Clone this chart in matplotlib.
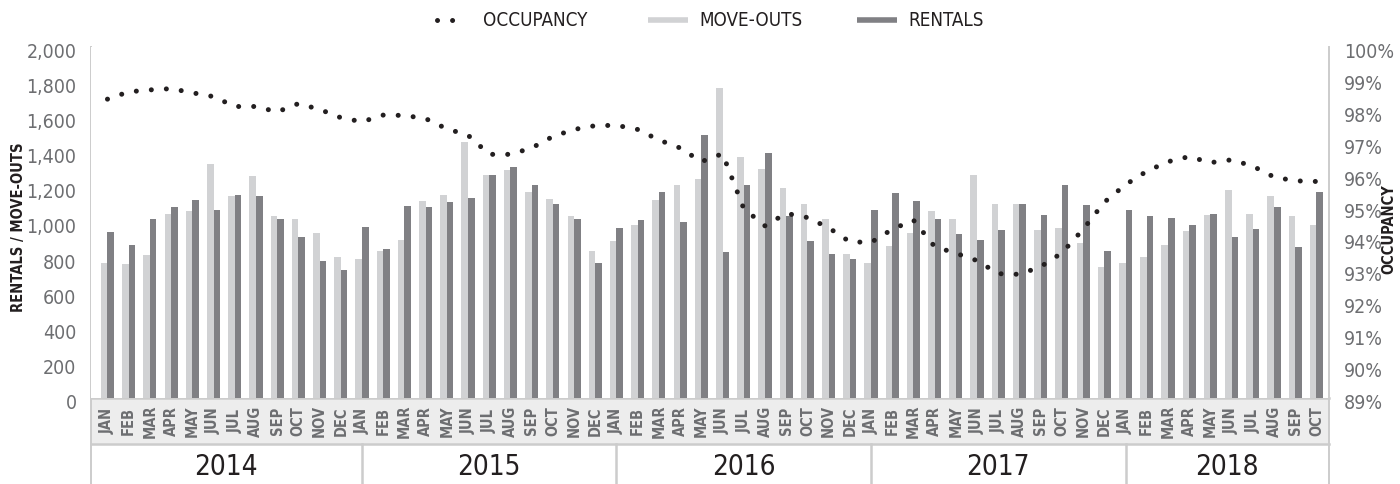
import matplotlib
matplotlib.use("Agg")
import matplotlib.pyplot as plt
from matplotlib.lines import Line2D
from matplotlib.patches import Rectangle
from matplotlib.transforms import blended_transform_factory, ScaledTranslation
from matplotlib.ticker import FuncFormatter
import numpy as np

# ---------------- data ----------------
years = [2014, 2015, 2016, 2017, 2018]
months_per_year = [12, 12, 12, 12, 10]
month_names = ["JAN", "FEB", "MAR", "APR", "MAY", "JUN",
               "JUL", "AUG", "SEP", "OCT", "NOV", "DEC"]

move_outs = [
    766, 761, 812, 1046, 1063, 1331, 1148, 1262, 1034, 1017, 937, 801,      # 2014
    789, 835, 898, 1120, 1154, 1456, 1268, 1297, 1171, 1131, 1034, 835,     # 2015
    892, 983, 1126, 1211, 1245, 1764, 1371, 1302, 1194, 1103, 1017, 818,    # 2016
    767, 863, 937, 1063, 1017, 1268, 1103, 1103, 955, 966, 881, 744,        # 2017
    767, 801, 869, 949, 1040, 1183, 1046, 1148, 1034, 983,                  # 2018
]
rentals = [
    943, 869, 1017, 1086, 1126, 1069, 1154, 1148, 1017, 915, 778, 727,      # 2014
    972, 846, 1091, 1086, 1114, 1137, 1268, 1314, 1211, 1103, 1017, 767,    # 2015
    966, 1012, 1171, 1000, 1496, 829, 1211, 1393, 1034, 892, 818, 789,      # 2016
    1069, 1166, 1120, 1017, 932, 898, 955, 1103, 1040, 1211, 1097, 835,     # 2017
    1069, 1034, 1023, 983, 1046, 915, 960, 1086, 858, 1171,                 # 2018
]
occupancy = [
    98.35, 98.58, 98.64, 98.68, 98.55, 98.43, 98.12, 98.12, 97.95, 98.21, 98.03, 97.77,  # 2014
    97.64, 97.85, 97.84, 97.74, 97.42, 97.22, 96.62, 96.62, 96.82, 97.18, 97.40, 97.52,  # 2015
    97.53, 97.40, 97.07, 96.82, 96.39, 96.64, 94.92, 94.38, 94.77, 94.64, 94.32, 93.88,  # 2016
    93.86, 94.27, 94.56, 93.73, 93.52, 93.29, 92.88, 92.86, 93.10, 93.53, 94.27, 95.12,  # 2017
    95.67, 96.09, 96.39, 96.55, 96.36, 96.45, 96.25, 95.91, 95.79, 95.77,                # 2018
]
left_ticks = list(range(0, 2001, 200))
right_ticks = list(range(89, 101))

# ---------------- style ----------------
W, H = 1400, 485
FAM = ["Liberation Sans Narrow", "DejaVu Sans"]
plt.rcParams["font.family"] = FAM
plt.rcParams["font.stretch"] = "condensed"
C_LIGHT = "#d1d2d4"
C_DARK = "#808084"
C_TEXT = "#6d6e71"
C_BLACK = "#231f20"
C_LINE = "#cccccc"
C_BAND = "#ededed"

def fx(px):
    return px / W

def fy(py):
    return 1 - py / H

fig = plt.figure(figsize=(W / 100, H / 100), dpi=100)
ax_left, ax_right, ax_top, ax_bot = 90.5, 1328.5, 47.5, 398.5
ax = fig.add_axes([fx(ax_left), fy(ax_bot), (ax_right - ax_left) / W, (ax_bot - ax_top) / H])
ax2 = ax.twinx()

n = len(move_outs)
x = np.arange(n)
bw = 0.31
ax.bar(x - bw / 2, move_outs, width=bw, color=C_LIGHT, linewidth=0, zorder=2)
ax.bar(x + bw / 2, rentals, width=bw, color=C_DARK, linewidth=0, zorder=2)

ax.set_xlim(-0.80, n - 1 + 0.57)
ax.set_ylim(0, 2000)
ax2.set_ylim(89, 100)

occ_style = dict(linestyle=(0, (0.01, 3.0)), linewidth=3.6,
                 dash_capstyle="round", color=C_BLACK)
ax2.plot(x, occupancy, **occ_style, zorder=5)

for a in (ax, ax2):
    for s in a.spines.values():
        s.set_visible(False)
ax.set_xticks([])
ax.set_yticks(left_ticks)
ax.yaxis.set_major_formatter(FuncFormatter(lambda v, p: f"{int(v):,}"))
ax.tick_params(axis="y", length=0, pad=10, labelsize=14, labelcolor=C_TEXT)
ax2.set_yticks(right_ticks)
ax2.set_yticklabels([f"{t}%" for t in right_ticks])
ax2.tick_params(axis="y", length=0, pad=11, labelsize=14, labelcolor=C_TEXT)
off = ScaledTranslation(0, -3 / 100, fig.dpi_scale_trans)
for lab in ax.get_yticklabels() + ax2.get_yticklabels():
    lab.set_transform(lab.get_transform() + off)

# axis titles
fig.text(fx(19), fy(227), "RENTALS / MOVE-OUTS", rotation=90, ha="center", va="center",
         fontsize=10.5, fontweight="bold", color=C_BLACK)
fig.text(fx(1389), fy(229), "OCCUPANCY", rotation=90, ha="center", va="center",
         fontsize=10.5, fontweight="bold", color=C_BLACK)

# category band (drawn beneath the axes so month labels stay visible)
band_top, band_bot = 398.5, 445
fig.patches.append(Rectangle((fx(ax_left), fy(band_bot)), (ax_right - ax_left) / W,
                             (band_bot - band_top) / H, transform=fig.transFigure,
                             facecolor=C_BAND, edgecolor="none", zorder=-2))
for yy in (band_top, band_bot):
    fig.lines.append(Line2D([fx(ax_left), fx(ax_right)], [fy(yy), fy(yy)],
                            transform=fig.transFigure, color=C_LINE, linewidth=1.8,
                            zorder=-1))
for xx in (ax_left, ax_right):
    fig.lines.append(Line2D([fx(xx), fx(xx)], [fy(ax_top), fy(H)],
                            transform=fig.transFigure, color=C_LINE, linewidth=1.4,
                            zorder=-1))

bt = blended_transform_factory(ax.transData, fig.transFigure)
labels = []
for nm in months_per_year:
    labels += month_names[:nm]
for i, lab in enumerate(labels):
    ax.text(i, fy(421), lab, transform=bt, rotation=90, ha="center", va="center",
            fontsize=10.5, fontweight="bold", color=C_TEXT, clip_on=False, zorder=10)

# year separators and labels
starts = np.cumsum([0] + months_per_year[:-1])
x0, x1 = ax.get_xlim()
bounds = [x0] + list(starts[1:]) + [x1]
for b in starts[1:]:
    ax.add_line(Line2D([b, b], [fy(band_bot), fy(H)], transform=bt, color=C_LINE,
                       linewidth=1.8, clip_on=False))
for k, yr in enumerate(years):
    ax.text((bounds[k] + bounds[k + 1]) / 2, fy(467), str(yr), transform=bt,
            ha="center", va="center", fontsize=20, color=C_BLACK, clip_on=False)

# legend (drawn manually)
ly = fy(21)
fig.lines.append(Line2D([fx(437), fx(467)], [ly, ly], transform=fig.transFigure, **occ_style))
fig.text(fx(483), ly, "OCCUPANCY", ha="left", va="center", fontsize=13.5, color=C_BLACK)
fig.lines.append(Line2D([fx(648), fx(688)], [ly, ly], transform=fig.transFigure,
                        color=C_LIGHT, linewidth=4, solid_capstyle="butt"))
fig.text(fx(699), ly, "MOVE-OUTS", ha="left", va="center", fontsize=13.5, color=C_BLACK)
fig.lines.append(Line2D([fx(857), fx(897)], [ly, ly], transform=fig.transFigure,
                        color=C_DARK, linewidth=4, solid_capstyle="butt"))
fig.text(fx(908), ly, "RENTALS", ha="left", va="center", fontsize=13.5, color=C_BLACK)

fig.savefig("out.png", dpi=100, facecolor="white")
